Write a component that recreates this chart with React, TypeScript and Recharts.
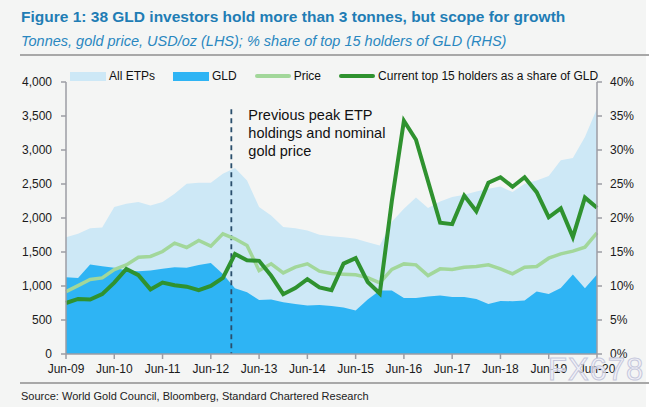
import { ComposedChart, Area, Line, XAxis, YAxis, ReferenceLine } from "recharts";

// quarterly, Jun-09 .. Jun-20
const yearLabels = ["Jun-09", "Jun-10", "Jun-11", "Jun-12", "Jun-13", "Jun-14", "Jun-15", "Jun-16", "Jun-17", "Jun-18", "Jun-19", "Jun-20"];

// tonnes
const allEtps = [
  1718, 1768, 1851, 1861, 2160, 2209, 2234, 2185, 2234, 2357, 2504, 2519,
  2519, 2651, 2735, 2553, 2160, 2038, 1866, 1851, 1817, 1753, 1730, 1718,
  1694, 1645, 1595, 1945, 2136, 2300, 2146, 2244, 2308, 2342, 2391, 2430,
  2465, 2381, 2504, 2553, 2617, 2848, 2882, 3192, 3609,
];
const gld = [
  1129, 1119, 1316, 1291, 1267, 1228, 1218, 1228, 1252, 1277, 1267, 1310,
  1340, 1178, 967, 908, 795, 800, 761, 737, 712, 722, 705, 682,
  638, 800, 933, 933, 825, 825, 845, 859, 840, 840, 810, 737,
  781, 776, 786, 918, 884, 972, 1169, 967, 1169,
];
// USD/oz
const price = [
  918, 1006, 1095, 1119, 1242, 1311, 1424, 1434, 1507, 1630, 1566, 1669,
  1586, 1768, 1694, 1596, 1228, 1326, 1193, 1277, 1326, 1218, 1185, 1173,
  1164, 1124, 1045, 1245, 1325, 1311, 1154, 1252, 1242, 1275, 1286, 1311,
  1252, 1178, 1277, 1286, 1409, 1473, 1512, 1571, 1782,
];
// % of GLD held by current top 15 holders
const top15Share = [
  7.5, 8.1, 8.0, 8.8, 10.5, 12.5, 11.6, 9.5, 10.5, 10.1, 9.9, 9.4,
  10.0, 11.2, 14.7, 13.8, 13.7, 11.5, 8.8, 9.7, 11.0, 9.8, 9.4, 13.3,
  14.1, 10.6, 8.9, 22.5, 34.3, 31.5, 25.4, 19.3, 19.1, 23.3, 21.0, 25.2,
  26.0, 24.6, 26.0, 23.8, 20.1, 21.4, 17.2, 23.0, 21.5,
];

const leftTicks = [0, 500, 1000, 1500, 2000, 2500, 3000, 3500, 4000];
const rightTicks = [0, 5, 10, 15, 20, 25, 30, 35, 40];
const yearTicks = yearLabels.map((_, k) => k * 4);

const peakQuarter = 13.7;
const peakNote = ["Previous peak ETP", "holdings and nominal", "gold price"];

const data = allEtps.map((v, i) => ({
  q: i,
  etps: v,
  gld: gld[i],
  price: price[i],
  share: top15Share[i],
}));

const font = '"Liberation Sans", Arial, sans-serif';
const axisGrey = "#9c9ca4";
const tickStyle = { fill: "#1a1a1a", fontSize: 12, fontFamily: font };

const legendItems = [
  { name: "All ETPs", color: "#cde8f6", kind: "rect" },
  { name: "GLD", color: "#2eb4f4", kind: "rect" },
  { name: "Price", color: "#a2d79a", kind: "line" },
  { name: "Current top 15 holders as a share of GLD", color: "#2f922f", kind: "line" },
];

function PeakNote({ viewBox }: any) {
  const x = (viewBox?.x ?? 0) + 17;
  const y = viewBox?.y ?? 0;
  return (
    <text fontSize={14.5} fontFamily={font} fill="#111">
      {peakNote.map((t, k) => (
        <tspan key={k} x={x} y={y + 11 + k * 18}>
          {t}
        </tspan>
      ))}
    </text>
  );
}

export default function App() {
  return (
    <div style={{ position: "absolute", left: 0, top: 0, width: 671, height: 407, background: "#fff", fontFamily: font, overflow: "hidden" }}>
      <div style={{ position: "absolute", left: 0, top: 0, width: 646, height: 407, background: "#f4f5f4" }} />
      <div style={{ position: "absolute", left: 21, top: 8, fontSize: 15.5, lineHeight: "18px", fontWeight: "bold", color: "#1f7db5", whiteSpace: "nowrap" }}>
        Figure 1: 38 GLD investors hold more than 3 tonnes, but scope for growth
      </div>
      <div style={{ position: "absolute", left: 21, top: 32, fontSize: 14.5, lineHeight: "18px", fontStyle: "italic", color: "#2987c0", whiteSpace: "nowrap" }}>
        Tonnes, gold price, USD/oz (LHS); % share of top 15 holders of GLD (RHS)
      </div>
      <div style={{ position: "absolute", left: 20, top: 54, width: 629, height: 2, background: "#a8a8a8" }} />

      <div style={{ position: "absolute", left: 0, top: 0 }}>
        <ComposedChart width={671} height={407} data={data} margin={{ top: 82, right: 24, bottom: 23, left: 16 }}>
          <XAxis
            dataKey="q"
            type="number"
            domain={[0, 44]}
            ticks={yearTicks}
            interval={0}
            tickFormatter={(v: number) => yearLabels[v / 4]}
            tick={tickStyle}
            stroke={axisGrey}
            strokeWidth={1.5}
            tickSize={5}
            tickMargin={5}
            height={30}
          />
          <YAxis
            yAxisId="left"
            domain={[0, 4000]}
            ticks={leftTicks}
            interval={0}
            tickFormatter={(v: number) => v.toLocaleString("en-US")}
            tick={tickStyle}
            stroke={axisGrey}
            strokeWidth={1.5}
            tickSize={5}
            tickMargin={9}
            width={50}
          />
          <YAxis
            yAxisId="right"
            orientation="right"
            domain={[0, 40]}
            ticks={rightTicks}
            interval={0}
            tickFormatter={(v: number) => `${v}%`}
            tick={tickStyle}
            stroke={axisGrey}
            strokeWidth={1.5}
            tickSize={5}
            tickMargin={8}
            width={50}
          />
          <Area yAxisId="left" type="linear" dataKey="etps" fill="#cde8f6" fillOpacity={1} stroke="none" isAnimationActive={false} />
          <Area yAxisId="left" type="linear" dataKey="gld" fill="#2eb4f4" fillOpacity={1} stroke="none" isAnimationActive={false} />
          <ReferenceLine
            yAxisId="left"
            segment={[{ x: peakQuarter, y: 3600 }, { x: peakQuarter, y: 0 }]}
            stroke="#2a4e6c"
            strokeWidth={1.8}
            strokeDasharray="5 4"
            label={(props: any) => <PeakNote viewBox={props.viewBox} />}
          />
          <Line yAxisId="left" type="linear" dataKey="price" stroke="#a2d79a" strokeWidth={3.5} dot={false} isAnimationActive={false} />
          <Line yAxisId="right" type="linear" dataKey="share" stroke="#2f922f" strokeWidth={4} dot={false} isAnimationActive={false} />
        </ComposedChart>
      </div>

      <div style={{ position: "absolute", left: 70, top: 68, display: "flex", alignItems: "center", fontSize: 12, color: "#111", whiteSpace: "nowrap" }}>
        {legendItems.map((it) => (
          <div key={it.name} style={{ display: "flex", alignItems: "center", marginRight: 18, height: 16 }}>
            <div style={{ width: 36, height: it.kind === "rect" ? 9 : 4, background: it.color, borderRadius: it.kind === "line" ? 2 : 0, marginRight: 3 }} />
            <span>{it.name}</span>
          </div>
        ))}
      </div>

      <div style={{ position: "absolute", left: 20, top: 382, width: 629, height: 2, background: "#a8a8a8" }} />
      <div style={{ position: "absolute", left: 21, top: 389, fontSize: 11, lineHeight: "14px", color: "#222", whiteSpace: "nowrap" }}>
        Source: World Gold Council, Bloomberg, Standard Chartered Research
      </div>
      <div style={{ position: "absolute", left: 548, top: 352, fontSize: 31, lineHeight: "36px", color: "rgba(242,242,250,0.7)", WebkitTextStroke: "1px #c6c8dc", letterSpacing: 1, whiteSpace: "nowrap" }}>
        FX678
      </div>
    </div>
  );
}
